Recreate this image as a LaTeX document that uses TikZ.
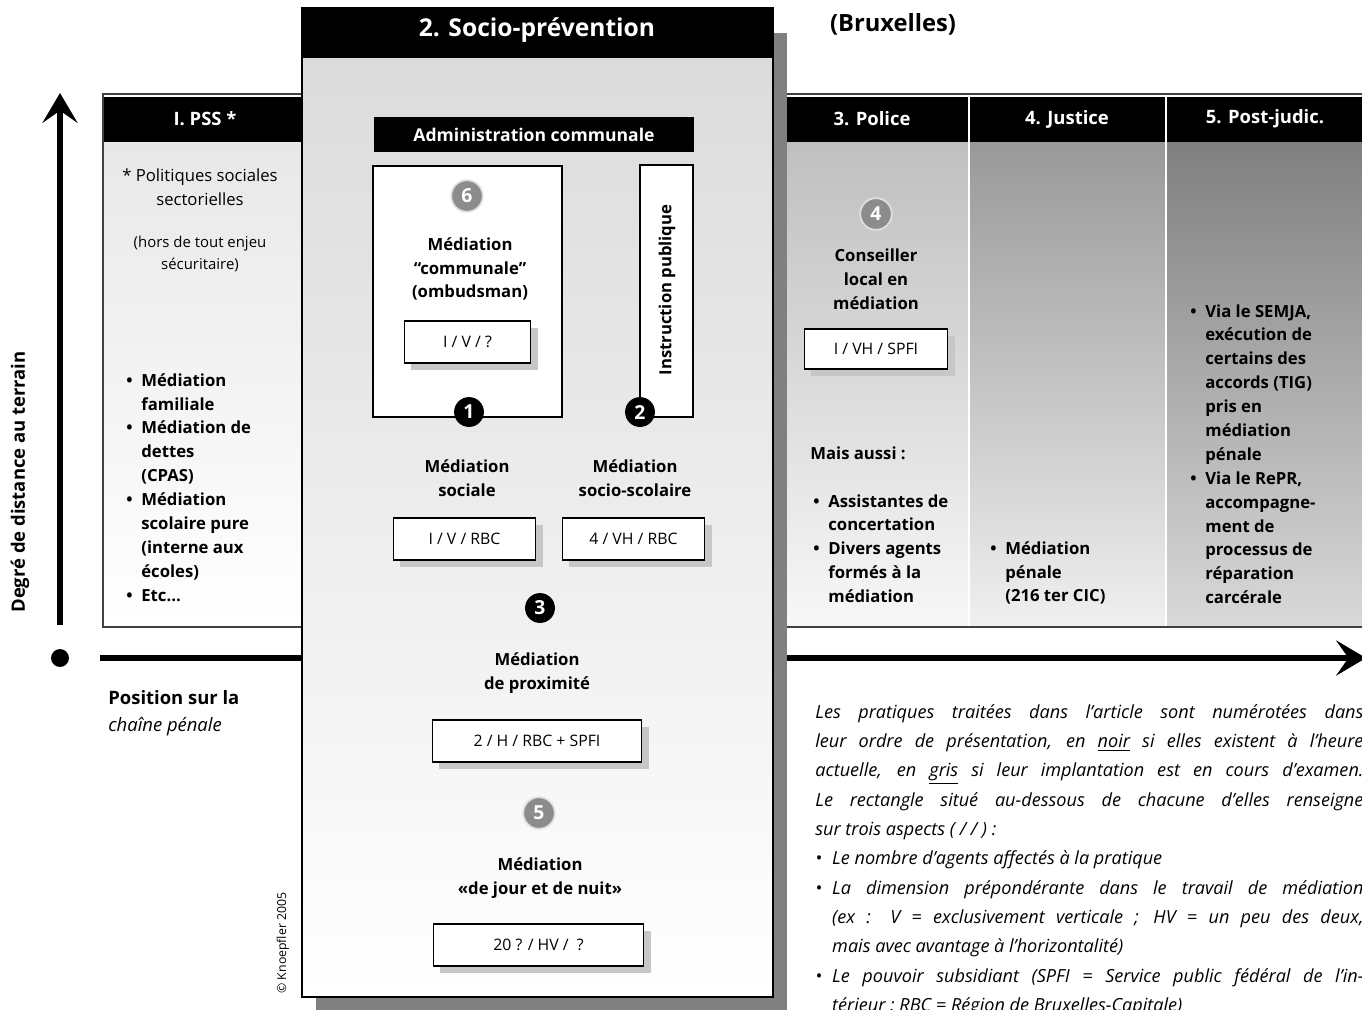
\documentclass[tikz,border=0pt]{standalone}
\usepackage{fontspec}
\setmainfont{Open Sans}
\usetikzlibrary{arrows.meta,shadows}
\definecolor{pssgray}{gray}{0.91}
\definecolor{policegray}{gray}{0.75}
\definecolor{justicegray}{gray}{0.6}
\definecolor{postgray}{gray}{0.5}
\definecolor{panelgray}{gray}{0.86}
\definecolor{shadowgray}{gray}{0.5}

\begin{document}
\begin{tikzpicture}[x=0.02cm,y=0.02cm]
	\tikzstyle{every node}+=[inner sep=0pt]
	\tikzstyle{headtext}=[text=white,font=\fontsize{10.5}{12}\selectfont\bfseries]
	\tikzstyle{bodytext}=[font=\fontsize{9.5}{13.6}\selectfont\bfseries,align=center]
	\tikzstyle{listtext}=[font=\fontsize{9.5}{13.6}\selectfont\bfseries,align=left,anchor=north west]
	\tikzstyle{codebox}=[draw=black,fill=white,line width=0.8pt,minimum height=23.8pt,font=\fontsize{9}{11}\selectfont,drop shadow={shadow xshift=4pt,shadow yshift=-4pt,fill=black!22,opacity=1}]
	\tikzstyle{numblack}=[circle,fill=black,text=white,minimum size=17pt,font=\fontsize{11}{11}\selectfont\bfseries]
	\tikzstyle{numgray}=[numblack,fill=black!45,draw=black!12,line width=1pt,minimum size=18pt]
	\tikzstyle{axis}=[line width=3.4pt,-{Stealth[length=17pt,width=20pt,inset=7pt]}]
	\newcommand{\bul}{\llap{\textbullet\hspace{5pt}}}
	\newcommand{\legitem}{\par\noindent\hangindent=9.6pt\hangafter=1\hbox to 9.6pt{\textbullet\hfil}}
	\useasboundingbox (0,0) rectangle (1362,-1009);
	\fill [white] (0,0) rectangle (1362,-1009);
	\fill [top color=pssgray,bottom color=white] (103,-142) rectangle (302,-626);
	\fill [top color=policegray,bottom color=black!3] (787,-142) rectangle (969,-626);
	\fill [top color=justicegray,bottom color=black!6] (969,-142) rectangle (1166,-626);
	\fill [top color=postgray,bottom color=black!15] (1166,-142) rectangle (1370,-626);
	\fill [black] (103,-97) rectangle (1370,-142);
	\draw [white,line width=0.6pt] (969,-97) -- (969,-626);
	\draw [white,line width=0.6pt] (1166,-97) -- (1166,-626);
	\draw [black!75,line width=1pt] (103,-94) rectangle (1370,-627);
	\draw (205,-119) node [headtext] (psshead) {I. PSS *};
	\draw (872,-119) node [headtext] (policehead) {3. Police};
	\draw (1067,-119) node [headtext] (justicehead) {4. Justice};
	\draw (1265,-119) node [headtext] (posthead) {5. Post-judic.};
	\coordinate (vbot) at (60,-625);
	\coordinate (vtop) at (60,-93);
	\draw [axis] (vbot) -- (vtop);
	\node [circle,fill=black,minimum size=10.2pt] (origin) at (60,-658) {};
	\coordinate (hstart) at (100,-658);
	\coordinate (hend) at (1366,-658);
	\draw [axis] (hstart) -- (hend);
	\fill [shadowgray] (316,-33) rectangle (787,-1012);
	\fill [top color=panelgray,bottom color=white] (302,-58) rectangle (773,-997);
	\fill [black] (302,-8) rectangle (773,-58);
	\draw [black,line width=0.8pt] (302,-8) rectangle (773,-997);
	\draw (537,-30) node [text=white,font=\fontsize{14}{16}\selectfont\bfseries] (panelhead) {2. Socio-prévention};
	\draw (893,-24) node [font=\fontsize{13.5}{15}\selectfont\bfseries] (city) {(Bruxelles)};
	\node [fill=black,text=white,minimum width=182.5pt,minimum height=19.8pt,font=\fontsize{10}{12}\selectfont\bfseries] (admin) at (534,-134.5) {Administration communale};
	\draw [black,fill=white,line width=0.8pt] (373,-166) rectangle (562,-417);
	\draw [black,fill=white,line width=0.8pt] (640,-165) rectangle (693,-417);
	\node [rotate=90,font=\fontsize{9.5}{12}\selectfont\bfseries] (instr) at (667,-290) {Instruction publique};
	\node [numgray] (nsix) at (467,-196) {6};
	\draw (470,-269) node [bodytext] (communale) {Médiation\\“communale”\\(ombudsman)};
	\node [codebox,minimum width=72pt] (boxsix) at (467.5,-342) {I / V / ?};
	\node [numblack] (none) at (469,-412) {1};
	\node [numblack] (ntwo) at (640,-412) {2};
	\draw (467,-478) node [bodytext] (sociale) {Médiation\\sociale};
	\draw (635,-478) node [bodytext] (scolaire) {Médiation\\socio-scolaire};
	\node [codebox,minimum width=81.1pt] (boxone) at (464.5,-539) {I / V / RBC};
	\node [codebox,minimum width=81.1pt] (boxtwo) at (633.5,-539) {4 / VH / RBC};
	\node [numblack] (nthree) at (540,-608) {3};
	\draw (537,-673) node [bodytext] (proximite) {Médiation\\de proximité};
	\node [codebox,minimum width=119pt] (boxthree) at (537,-741) {2 / H / RBC + SPFI};
	\node [numgray] (nfive) at (539,-813) {5};
	\draw (540,-878) node [bodytext] (nuit) {Médiation\\«de jour et de nuit»};
	\node [codebox,minimum width=119.6pt] (boxfive) at (538.5,-945) {20 ? / HV / \ ?};
	\node [numgray] (nfour) at (876,-214) {4};
	\draw (876,-279) node [bodytext] (conseiller) {Conseiller\\local en\\médiation};
	\node [codebox,minimum width=81.6pt,minimum height=22.7pt] (boxfour) at (876,-349) {I / VH / SPFI};
	\draw (200,-187) node [align=center,font=\fontsize{9.5}{13.6}\selectfont] (pssnote) {* Politiques sociales\\sectorielles};
	\draw (200,-254) node [align=center,font=\fontsize{8.5}{12.8}\selectfont] (pssnoteb) {(hors de tout enjeu\\sécuritaire)};
	\node [listtext] (psslist) at (141,-373) {\bul Médiation\\familiale\\\bul Médiation de\\dettes\\(CPAS)\\\bul Médiation\\scolaire pure\\(interne aux\\écoles)\\\bul Etc…};
	\node [anchor=west,font=\fontsize{9.5}{13.6}\selectfont\bfseries] (aussi) at (810,-453) {Mais aussi :};
	\node [listtext] (policelist) at (828,-494) {\bul Assistantes de\\concertation\\\bul Divers agents\\formés à la\\médiation};
	\node [listtext] (justicelist) at (1005,-541) {\bul Médiation\\pénale\\(216 ter CIC)};
	\node [listtext] (postlist) at (1205,-304) {\bul Via le SEMJA,\\exécution de\\certains des\\accords (TIG)\\pris en\\médiation\\pénale\\\bul Via le RePR,\\accompagne-\\ment de\\processus de\\réparation\\carcérale};
	\node [rotate=90,font=\fontsize{10.5}{12}\selectfont\bfseries] (ylabel) at (20,-482) {Degré de distance au terrain};
	\node [anchor=west,font=\fontsize{10.5}{12}\selectfont\bfseries] (xlabel) at (108,-698) {Position sur la};
	\node [anchor=west,font=\fontsize{10.5}{12}\selectfont\itshape] (xlabelb) at (108,-727) {chaîne pénale};
	\node [rotate=90,font=\fontsize{7}{8}\selectfont] (copyright) at (283,-943) {© Knoepfler 2005};
	\node [anchor=north west,text width=312pt,align=justify,font=\fontsize{10.3}{16.7}\selectfont\itshape] (legend) at (815,-704) {\parindent=0pt
		Les pratiques traitées dans l’article sont numérotées dans\linebreak
		leur ordre de présentation, en \underline{noir} si elles existent à l’heure\linebreak
		actuelle, en \underline{gris} si leur implantation est en cours d’examen.\linebreak
		Le rectangle situé au-dessous de chacune d’elles renseigne\linebreak
		sur trois aspects ( / / ) :
		\legitem Le nombre d’agents affectés à la pratique
		\legitem La dimension prépondérante dans le travail de médiation\linebreak
		(ex : V = exclusivement verticale ; HV = un peu des deux,\linebreak
		mais avec avantage à l’horizontalité)
		\legitem Le pouvoir subsidiant (SPFI = Service public fédéral de l’in-\linebreak
		térieur ; RBC = Région de Bruxelles-Capitale)\par};
\end{tikzpicture}
\end{document}
